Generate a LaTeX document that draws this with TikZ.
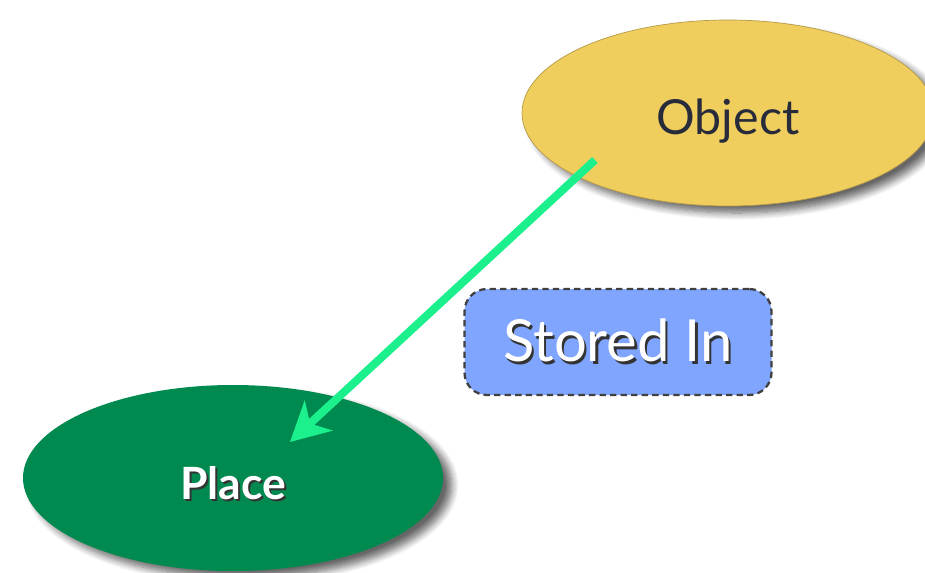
\documentclass[tikz,border=0pt]{standalone}
\usepackage{fontspec}
\setmainfont{Lato}
\usepackage{xcolor}
\usepackage{tikz}
\usetikzlibrary{arrows.meta,shapes.geometric,shadows.blur}
\definecolor{AmarilloObj}{RGB}{240,206,94}
\definecolor{VerdeLugar}{RGB}{0,138,80}
\definecolor{AzulRel}{RGB}{128,165,255}
\definecolor{VerdeFlecha}{RGB}{28,240,140}
\definecolor{TextoObj}{RGB}{40,44,58}
% white text with a small dark offset copy behind it
\newcommand{\sombra}[1]{\makebox[0pt][l]{\kern1.3pt\raisebox{-1.3pt}{\color{black!80}#1}}#1}

\begin{document}
\begin{tikzpicture}[>=Stealth,
  concepto/.style={ellipse,inner sep=0pt,minimum width=8.3cm,minimum height=3.72cm,
    text depth=0pt,
    blur shadow={shadow xshift=5pt,shadow yshift=-4pt,shadow blur radius=4pt,
      shadow blur steps=8,shadow opacity=60}},
  relacion/.style={rectangle,rounded corners=0.45cm,fill=AzulRel,draw=black!75,
    line width=1.3pt,dash pattern=on 3.6pt off 2.4pt,minimum width=6.14cm,minimum height=2.12cm},
  enlace/.style={->,VerdeFlecha,line width=4.6pt,
    -{Stealth[length=22pt,width=23pt,inset=6.5pt]}}]
  \useasboundingbox (0,0) rectangle (18.5,-11.46);

  \node[concepto,fill=AmarilloObj,draw=AmarilloObj!75!black,line width=0.4pt,
    minimum width=8.24cm,text=TextoObj,text height=24.4pt,font=\fontsize{27.5}{27.5}\selectfont]
    (obj) at (14.56,-2.26) {Object};
  \node[concepto,fill=VerdeLugar,minimum width=8.4cm,text=white,text height=23.9pt,
    font=\bfseries\fontsize{25.3}{25.3}\selectfont]
    (lugar) at (4.66,-9.56) {\sombra{Place}};
  \node[relacion,text=white,font=\fontsize{33}{33}\selectfont]
    (guardado) at (12.36,-6.84) {\sombra{Stored In}};

  \draw[enlace] ([shift={(-2.66,-0.94)}]obj.center) -- ([shift={(1.14,0.72)}]lugar.center);
\end{tikzpicture}
\end{document}
